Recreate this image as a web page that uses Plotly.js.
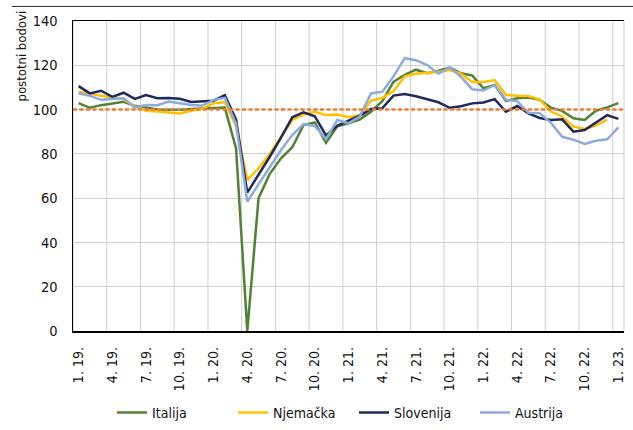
<!DOCTYPE html>
<html>
<head>
<meta charset="utf-8">
<script src="https://cdn.plot.ly/plotly-3.0.1.min.js"></script>
<style>
  html, body { margin: 0; padding: 0; background: #ffffff; }
  #wrap { position: relative; width: 633px; height: 430px; }
  #chart { width: 633px; height: 430px; }
  #toprule { position: absolute; left: 12px; top: 6px; width: 621px; height: 1px;
             background: #3a3a3a; z-index: 5; pointer-events: none; }
</style>
</head>
<body>
<div id="wrap">
  <div id="chart"></div>
  <div id="toprule"></div>
</div>
<script>
// Monthly categories (1.2019 - 1.2023)
const months = [
  "1. 19.","2. 19.","3. 19.","4. 19.","5. 19.","6. 19.","7. 19.","8. 19.","9. 19.","10. 19.","11. 19.","12. 19.",
  "1. 20.","2. 20.","3. 20.","4. 20.","5. 20.","6. 20.","7. 20.","8. 20.","9. 20.","10. 20.","11. 20.","12. 20.",
  "1. 21.","2. 21.","3. 21.","4. 21.","5. 21.","6. 21.","7. 21.","8. 21.","9. 21.","10. 21.","11. 21.","12. 21.",
  "1. 22.","2. 22.","3. 22.","4. 22.","5. 22.","6. 22.","7. 22.","8. 22.","9. 22.","10. 22.","11. 22.","12. 22.",
  "1. 23."
];

const tickLabels = ["1. 19.","4. 19.","7. 19.","10. 19.","1. 20.","4. 20.","7. 20.","10. 20.",
                    "1. 21.","4. 21.","7. 21.","10. 21.","1. 22.","4. 22.","7. 22.","10. 22.","1. 23."];

const italija = [
  102.9,100.8,102.0,102.6,103.5,101.7,100.9,100.0,99.9,99.9,100.3,100.6,
  100.9,100.9,82.5,0,60.0,71.0,78.0,83.0,93.0,94.2,85.0,92.5,
  93.8,95.5,99.0,103.8,112.5,115.7,118.0,116.4,117.5,119.0,116.4,115.4,
  109.6,111.1,103.9,105.1,105.4,104.4,100.9,99.4,96.1,95.3,99.5,101.0,
  102.9
];

const njemacka = [
  108.1,107.1,106.2,105.6,104.7,101.4,99.5,99.1,98.6,98.2,99.5,100.3,
  102.9,103.3,92.5,68.3,73.5,80.0,87.8,95.3,97.8,99.0,97.5,97.8,
  96.5,97.5,104.0,105.3,108.3,115.0,116.2,116.6,117.1,117.9,116.2,112.4,
  112.5,113.3,106.6,106.2,106.1,104.5,99.1,96.9,92.3,91.2,92.8,95.5,
  null
];

const slovenija = [
  110.6,107.3,108.5,105.7,107.6,104.8,106.6,105.1,105.2,104.9,103.4,103.6,
  104.0,106.5,95.5,62.5,70.5,78.7,87.3,96.5,98.8,97.0,88.3,92.7,
  95.0,97.2,100.3,100.6,106.3,107.0,106.0,104.8,103.3,100.8,101.5,102.8,
  103.2,104.7,99.0,101.6,98.3,96.2,95.3,95.6,90.0,90.8,94.0,97.5,
  95.8
];

const austrija = [
  107.4,106.2,104.4,104.7,105.1,101.0,102.1,102.0,103.6,102.9,102.1,101.8,
  104.4,105.3,93.5,58.5,66.3,74.0,81.7,88.5,93.4,92.6,86.7,95.3,
  93.8,96.8,107.3,108.0,115.0,123.2,122.3,120.1,116.2,119.0,114.8,109.2,
  108.6,111.1,104.5,103.8,98.6,98.4,94.0,87.7,86.4,84.5,85.9,86.6,
  92.0
];

const referenceLevel = 100;
const yTicks = [0, 20, 40, 60, 80, 100, 120, 140];

const xIdx = months.map((_, i) => i);
const tickVals = tickLabels.map(l => months.indexOf(l));

const FONT = "'DejaVu Sans Condensed', 'Liberation Sans Narrow', sans-serif";

function series(name, y, color) {
  return {
    type: 'scatter', mode: 'lines', name: name,
    x: xIdx, y: y,
    line: { color: color, width: 2.5 },
    connectgaps: false,
    hoverinfo: 'skip'
  };
}

const data = [
  series('Italija', italija, '#548235'),
  series('Njemačka', njemacka, '#FFC000'),
  series('Slovenija', slovenija, '#1F2A5C'),
  series('Austrija', austrija, '#8FAADC')
];

// vertical gridlines at category boundaries every 3 months
const shapes = [];
for (let k = 0; k < tickVals.length; k++) {
  const xb = tickVals[k] - 0.5;
  shapes.push({ type: 'line', xref: 'x', yref: 'paper', x0: xb, x1: xb, y0: 0, y1: 1,
                line: { color: '#d0d0d0', width: 1 }, layer: 'below' });
}
// right border of plot area
shapes.push({ type: 'line', xref: 'paper', yref: 'paper', x0: 1, x1: 1, y0: 0, y1: 1,
              line: { color: '#c8c8c8', width: 1 }, layer: 'below' });
// reference line at 100
shapes.push({ type: 'line', xref: 'paper', yref: 'y', x0: 0, x1: 1, y0: referenceLevel, y1: referenceLevel,
              line: { color: '#ED7D31', width: 2.5, dash: '4px,2.5px' }, layer: 'above' });
// decorative top rule
shapes.push({ type: 'line', xref: 'paper', yref: 'paper', x0: -0.111, x1: 1.02, y0: 1.047, y1: 1.047,
              line: { color: '#3a3a3a', width: 1 }, layer: 'above' });

const layout = {
  width: 633, height: 430,
  margin: { l: 73, r: 9, t: 21, b: 99, pad: 0, autoexpand: false },
  paper_bgcolor: '#ffffff', plot_bgcolor: '#ffffff',
  font: { family: FONT, size: 14, color: '#111111' },
  showlegend: true,
  legend: {
    orientation: 'h', x: 0.51, xanchor: 'center',
    yref: 'container', y: 0.04, yanchor: 'middle',
    font: { family: FONT, size: 14, color: '#111111' },
    entrywidth: 76, entrywidthmode: 'pixels',
    bgcolor: 'rgba(0,0,0,0)'
  },
  xaxis: {
    type: 'linear', range: [-0.5, 48.5], autorange: false,
    tickmode: 'array', tickvals: tickVals, ticktext: tickLabels,
    tickangle: -90, showgrid: false, zeroline: false,
    showline: true, linecolor: '#000000', linewidth: 1.5, mirror: true,
    ticks: '', ticklabelstandoff: 9,
    tickfont: { family: FONT, size: 14, color: '#111111' },
    automargin: false, fixedrange: true
  },
  yaxis: {
    range: [0, 140], autorange: false,
    tickmode: 'array', tickvals: yTicks,
    showgrid: true, gridcolor: '#d0d0d0', gridwidth: 1,
    zeroline: false, showline: true, linecolor: '#000000', linewidth: 1.5,
    ticks: '', ticklabelstandoff: 11,
    tickfont: { family: FONT, size: 14.5, color: '#111111' },
    automargin: false, fixedrange: true
  },
  shapes: shapes,
  annotations: [{
    text: 'postotni bodovi', textangle: -90,
    xref: 'paper', yref: 'paper', x: -0.0935, y: 0.887,
    xanchor: 'center', yanchor: 'middle', showarrow: false,
    font: { family: FONT, size: 13, color: '#111111' }
  }]
};

Plotly.newPlot('chart', data, layout, { staticPlot: true, displayModeBar: false });
</script>
</body>
</html>
